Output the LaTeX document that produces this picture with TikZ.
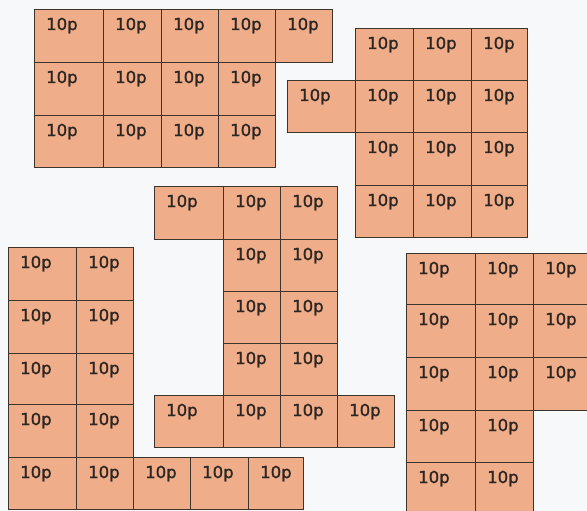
\documentclass[tikz,border=0pt]{standalone}
\usepackage{fontspec}
\usepackage{xcolor}
\usepackage{tikz}
\newfontfamily\coinfont[FakeBold=1.2]{DejaVu Sans}
\definecolor{cpaper}{RGB}{246, 248, 249}
\definecolor{cfill}{RGB}{240, 173, 138}
\definecolor{cedge}{RGB}{62, 52, 46}
\definecolor{ctext}{RGB}{45, 38, 34}

% one row of cells: name, top, bottom, left edge, further edges
\newcommand{\coinrow}[5]{%
  \foreach \xb [remember=\xb as \xa (initially #4), count=\k] in {#5} {
    \pgfmathsetmacro\cw{\xb-\xa}
    \pgfmathsetmacro\ch{#3-#2}
    \node[coin, minimum width=\cw pt, minimum height=\ch pt] (#1-\k) at (\xa,#2) {};
    \node[coinval] (#1-\k-v) at ([shift={(12pt,-21pt)}]#1-\k.north west) {10p};
  }}

\begin{document}
\begin{tikzpicture}[
    x=1pt, y=-1pt,
    coin/.style={draw=cedge, fill=cfill, line width=1.3pt, inner sep=0pt, anchor=north west},
    coinval/.style={anchor=base west, inner sep=0pt, text=ctext, font=\coinfont\fontsize{16.5}{18}\selectfont},
]
    \useasboundingbox (0,0) rectangle (587,511);
    \clip (0,0) rectangle (587,511);
    \fill[cpaper] (0,0) rectangle (587,511);

    % Top left block
    \coinrow{a1}{9}{62}{34}{103,161,218,275,332}
    \coinrow{a2}{62}{115}{34}{103,161,218,275}
    \coinrow{a3}{115}{167}{34}{103,161,218,275}

    % Top right block
    \coinrow{b1}{28}{80}{355}{413,471,527}
    \coinrow{b2}{80}{132}{287}{355,413,471,527}
    \coinrow{b3}{132}{185}{355}{413,471,527}
    \coinrow{b4}{185}{237}{355}{413,471,527}

    % Middle block
    \coinrow{c1}{186}{239}{154}{223,280,337}
    \coinrow{c2}{239}{291}{223}{280,337}
    \coinrow{c3}{291}{343}{223}{280,337}
    \coinrow{c4}{343}{395}{223}{280,337}
    \coinrow{c5}{395}{447}{154}{223,280,337,394}

    % Bottom left block
    \coinrow{d1}{247}{300}{8}{76,133}
    \coinrow{d2}{300}{353}{8}{76,133}
    \coinrow{d3}{353}{404}{8}{76,133}
    \coinrow{d4}{404}{457}{8}{76,133}
    \coinrow{d5}{457}{509}{8}{76,133,190,248,303}

    % Bottom right block
    \coinrow{e1}{253}{304}{406}{475,533,592}
    \coinrow{e2}{304}{357}{406}{475,533,592}
    \coinrow{e3}{357}{410}{406}{475,533,592}
    \coinrow{e4}{410}{462}{406}{475,533}
    \coinrow{e5}{462}{515}{406}{475,533}
\end{tikzpicture}
\end{document}
